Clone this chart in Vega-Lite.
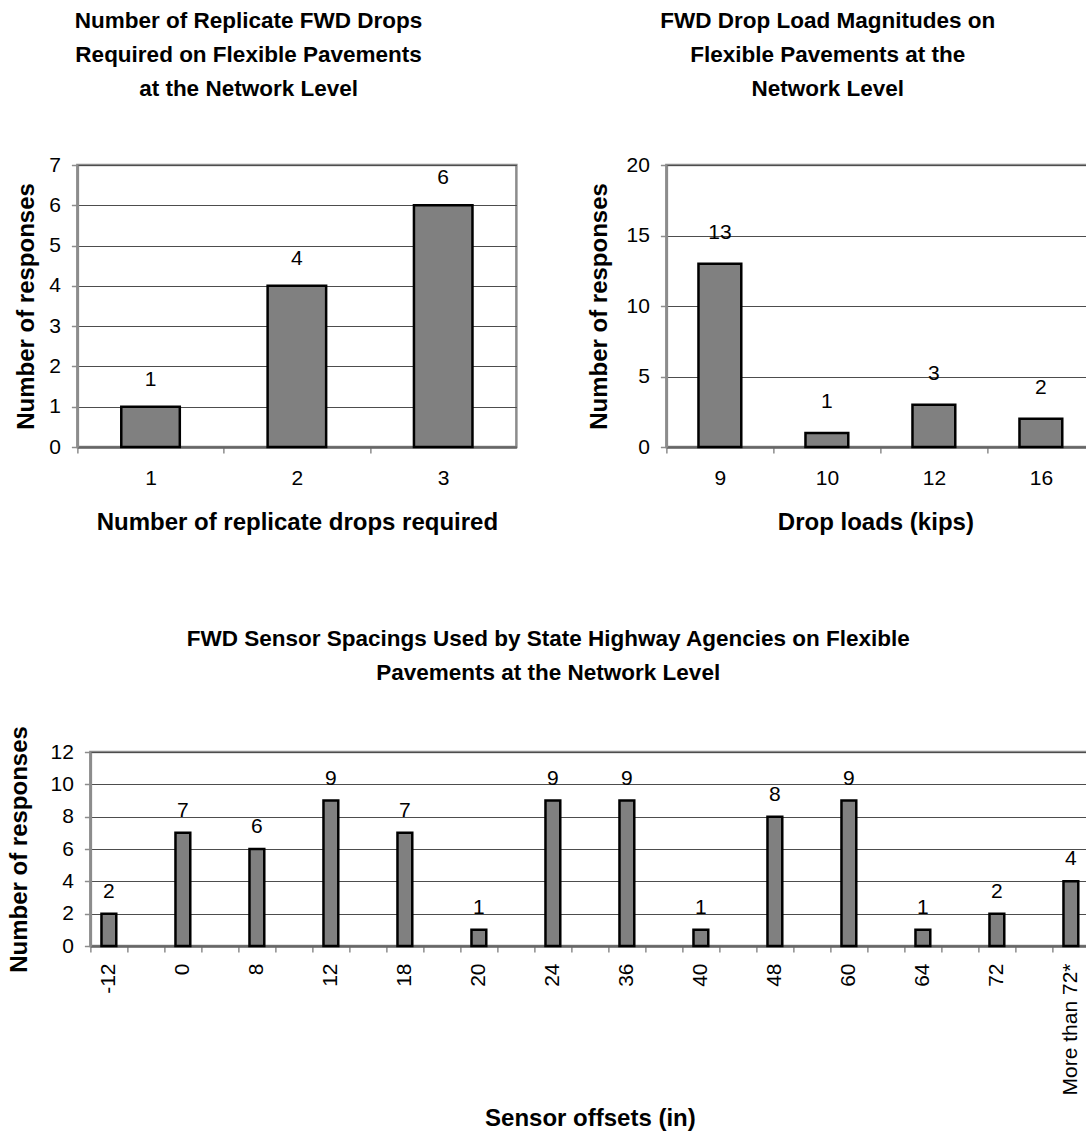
{
  "$schema": "https://vega.github.io/schema/vega-lite/v6.json",
  "padding": {"left": 5, "top": 8, "right": 0, "bottom": 0},
  "config": {
    "font": "Liberation Sans",
    "view": {"stroke": "#8c8c8c", "strokeWidth": 2.5},
    "axis": {
      "labelFont": "Liberation Sans", "labelFontSize": 21, "labelColor": "#000",
      "titleFont": "Liberation Sans", "titleFontSize": 24, "titleFontWeight": "bold", "titleColor": "#000",
      "domainColor": "#8c8c8c", "domainWidth": 2.5,
      "tickColor": "#8c8c8c", "tickWidth": 1.5, "tickSize": 6,
      "gridColor": "#4d4d4d", "gridWidth": 1
    },
    "axisX": {"grid": false, "domainColor": "#666666", "labelPadding": 14, "titlePadding": 22},
    "axisY": {"grid": true, "labelPadding": 11, "titlePadding": 10},
    "title": {"font": "Liberation Sans", "fontSize": 22.5, "fontWeight": "bold", "color": "#000", "anchor": "middle", "lineHeight": 34, "frame": "bounds"}
  },
  "vconcat": [
    {
      "hconcat": [
        {
          "title": {"text": ["Number of Replicate FWD Drops", "Required on Flexible Pavements", "at the Network Level"], "offset": 54, "dx": -17},
          "width": 439, "height": 282,
          "data": {"values": [
            {"drops": "1", "responses": 1},
            {"drops": "2", "responses": 4},
            {"drops": "3", "responses": 6}
          ]},
          "encoding": {
            "x": {"field": "drops", "type": "ordinal", "scale": {"paddingInner": 0, "paddingOuter": 0},
                  "axis": {"title": "Number of replicate drops required", "labelAngle": 0, "tickOffset": -73.2, "labelOffset": 73.2}},
            "y": {"field": "responses", "type": "quantitative", "scale": {"domain": [0, 7], "nice": false},
                  "axis": {"title": "Number of responses", "values": [0, 1, 2, 3, 4, 5, 6, 7]}}
          },
          "layer": [
            {"mark": {"type": "bar", "width": {"band": 0.4}, "fill": "#808080", "stroke": "#000", "strokeWidth": 2.5}},
            {"mark": {"type": "text", "baseline": "alphabetic", "dy": -21, "fontSize": 21, "fill": "#000"},
             "encoding": {"text": {"field": "responses", "type": "quantitative"}}}
          ]
        },
        {
          "title": {"text": ["FWD Drop Load Magnitudes on", "Flexible Pavements at the", "Network Level"], "offset": 54, "dx": -17},
          "width": 436, "height": 282,
          "data": {"values": [
            {"load": "9", "responses": 13},
            {"load": "10", "responses": 1},
            {"load": "12", "responses": 3},
            {"load": "16", "responses": 2}
          ]},
          "encoding": {
            "x": {"field": "load", "type": "ordinal", "sort": ["9", "10", "12", "16"],
                  "scale": {"paddingInner": 0, "paddingOuter": 0.0374, "align": 0},
                  "axis": {"title": "Drop loads (kips)", "labelAngle": 0, "tickOffset": -53.5, "labelOffset": 53.5, "titleX": 209}},
            "y": {"field": "responses", "type": "quantitative", "scale": {"domain": [0, 20], "nice": false},
                  "axis": {"title": "Number of responses", "values": [0, 5, 10, 15, 20], "titlePadding": 15}}
          },
          "layer": [
            {"mark": {"type": "bar", "width": {"band": 0.4}, "fill": "#808080", "stroke": "#000", "strokeWidth": 2.5}},
            {"mark": {"type": "text", "baseline": "alphabetic", "dy": -25, "fontSize": 21, "fill": "#000"},
             "encoding": {"text": {"field": "responses", "type": "quantitative"}}}
          ]
        }
      ],
      "spacing": 67
    },
    {
      "title": {"text": ["FWD Sensor Spacings Used by State Highway Agencies on Flexible", "Pavements at the Network Level"], "offset": 41},
      "width": 999, "height": 194,
      "data": {"values": [
        {"offset": "-12", "responses": 2},
        {"offset": "0", "responses": 7},
        {"offset": "8", "responses": 6},
        {"offset": "12", "responses": 9},
        {"offset": "18", "responses": 7},
        {"offset": "20", "responses": 1},
        {"offset": "24", "responses": 9},
        {"offset": "36", "responses": 9},
        {"offset": "40", "responses": 1},
        {"offset": "48", "responses": 8},
        {"offset": "60", "responses": 9},
        {"offset": "64", "responses": 1},
        {"offset": "72", "responses": 2},
        {"offset": "More than 72*", "responses": 4}
      ]},
      "encoding": {
        "x": {"field": "offset", "type": "ordinal",
              "scale": {"paddingInner": 0, "paddingOuter": 0,
                        "domain": ["-12", "~a", "0", "~b", "8", "~c", "12", "~d", "18", "~e", "20", "~f", "24", "~g", "36", "~h", "40", "~i", "48", "~j", "60", "~k", "64", "~l", "72", "~m", "More than 72*"]},
              "axis": {"title": "Sensor offsets (in)", "labelAngle": -90, "labelPadding": 11, "titlePadding": 12, "tickOffset": -18.5, "labelOffset": 18.5,
                       "labelExpr": "isString(datum.value) && indexof(datum.value, '~') != 0 ? datum.value : ''"}},
        "y": {"field": "responses", "type": "quantitative", "scale": {"domain": [0, 12], "nice": false},
              "axis": {"title": "Number of responses", "values": [0, 2, 4, 6, 8, 10, 12], "titlePadding": 19}}
      },
      "layer": [
        {"mark": {"type": "bar", "width": {"band": 0.4}, "fill": "#808080", "stroke": "#000", "strokeWidth": 2.5}},
        {"mark": {"type": "text", "baseline": "alphabetic", "dy": -16, "fontSize": 21, "fill": "#000"},
         "encoding": {"text": {"field": "responses", "type": "quantitative"}}}
      ]
    }
  ],
  "center": true,
  "spacing": 90
}
